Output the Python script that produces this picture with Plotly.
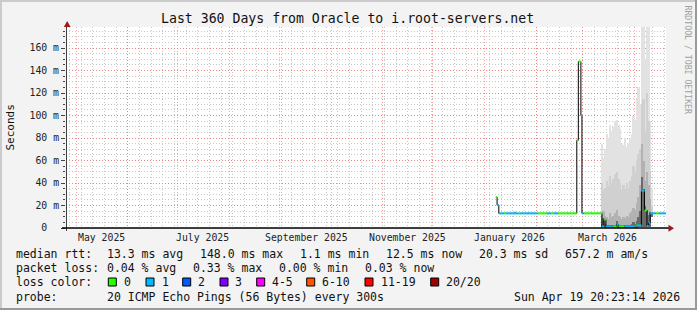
import plotly.graph_objects as go
import pandas as pd

# ---------------- data ----------------
TITLE = "Last 360 Days from Oracle to i.root-servers.net"
X_START = "2025-04-24 20:23:14"
X_END = "2026-04-19 20:23:14"

# median rtt (ms), step changes
MED_T = ["2026-01-07 18:00", "2026-01-08 12:00", "2026-01-09 13:00", "2026-02-25 08:00",
         "2026-02-26 06:00", "2026-02-27 19:00", "2026-02-28 10:00", "2026-03-12 10:00",
         "2026-03-13 14:00", "2026-03-14 19:00", "2026-03-21 06:00", "2026-03-22 11:00",
         "2026-04-01 16:00", "2026-04-05 02:00", "2026-04-06 22:00", "2026-04-08 10:00",
         "2026-04-09 11:00", "2026-04-10 09:00", "2026-04-19 20:23"]
MED_V = [27.5, 20.4, 13.0, 78.0, 148.0, 100.0, 13.0, 1.5, 7.5, 1.2, 3.0, 1.5, 2.5, 33.0,
         15.6, 1.8, 4.7, 13.0, 13.0]

# packet loss bucket (0 -> "0", 1 -> "1"), step changes
LOSS_T = ["2026-01-07 18:00", "2026-01-08 12:00", "2026-01-12 14:00", "2026-01-13 19:00",
          "2026-01-21 05:00", "2026-01-22 05:00", "2026-02-01 14:00", "2026-02-07 14:00",
          "2026-02-09 14:00", "2026-02-11 14:00", "2026-02-14 00:00", "2026-02-27 19:00",
          "2026-03-01 12:00", "2026-03-12 10:00", "2026-03-13 14:00", "2026-03-14 19:00",
          "2026-03-18 19:00", "2026-03-21 06:00", "2026-03-22 11:00", "2026-03-26 00:00",
          "2026-04-01 02:00", "2026-04-02 07:00", "2026-04-06 22:00", "2026-04-08 10:00",
          "2026-04-13 17:00", "2026-04-15 12:00"]
LOSS_B = [0, 1, 0, 1, 0, 1, 0, 1, 0, 1, 0, 1, 0, 1, 0, 1, 0, 1, 0, 1, 0, 1, 0, 1, 0, 1]

# smoke (ms) per day: low bound and upper bounds of the shaded layers
SMOKE_DAYS = ["2026-01-19", "2026-03-12", "2026-03-13", "2026-03-14", "2026-03-15", "2026-03-16",
              "2026-03-17", "2026-03-18", "2026-03-19", "2026-03-20", "2026-03-21", "2026-03-22",
              "2026-03-23", "2026-03-24", "2026-03-25", "2026-03-26", "2026-03-27", "2026-03-28",
              "2026-03-29", "2026-03-30", "2026-03-31", "2026-04-01", "2026-04-02", "2026-04-03",
              "2026-04-04", "2026-04-05", "2026-04-06", "2026-04-07", "2026-04-08", "2026-04-09",
              "2026-04-10", "2026-04-11"]
SMOKE_LOW = [13.0, 0.3, 0.5, 0.3, 0.3, 0.3, 0.3, 0.3, 0.3, 0.3, 0.5, 0.3, 0.3, 0.3, 0.3, 0.3,
             0.3, 0.3, 0.3, 0.3, 0.3, 0.3, 0.3, 0.5, 0.5, 1.0, 1.0, 0.8, 0.5, 0.5, 0.8, 10.0]
SMOKE_L1 = [15.5, 75, 62, 70, 84, 80, 92, 86, 90, 95, 96, 92, 88, 76, 74, 80, 72, 76, 80, 84,
            100, 96, 115, 125, 110, 190, 190, 150, 190, 190, 95, 35]
SMOKE_L2 = [14.5, 40, 34, 36, 42, 38, 46, 40, 44, 48, 50, 44, 40, 34, 38, 35, 40, 36, 42, 46,
            55, 50, 60, 66, 70, 110, 115, 85, 120, 95, 50, 20]
SMOKE_L3 = [13.5, 12, 15, 11, 10, 8, 13, 10, 11, 13, 16, 11, 10, 8, 10, 9, 11, 10, 13, 15,
            18, 16, 22, 28, 38, 75, 60, 42, 50, 38, 26, 14]
SMOKE_L4 = [13.2, 4, 9, 4, 3, 2.5, 3, 2.5, 3, 3, 6, 3, 2.5, 2.5, 2.5, 2.5, 3, 2.5, 3, 4,
            5, 4, 6, 10, 15, 45, 35, 20, 16, 12, 14, 13.5]

Y_TICKS = [0, 20, 40, 60, 80, 100, 120, 140, 160]
Y_TICKTEXT = ["0\u00a0\u00a0", "20 m", "40 m", "60 m", "80 m", "100 m", "120 m", "140 m", "160 m"]
X_LABELS = ["May 2025", "July 2025", "September 2025", "November 2025", "January 2026", "March 2026"]
X_LABEL_AT = ["2025-05-16", "2025-07-16", "2025-09-16", "2025-11-16", "2026-01-16", "2026-03-16"]

LOSS_NAMES = ["0", "1", "2", "3", "4-5", "6-10", "11-19", "20/20"]
LOSS_COLORS = ["#26ff00", "#00b8ff", "#0059ff", "#7e00ff", "#ff00ff", "#ff5500", "#ff0000", "#a10000"]

LEGEND_RTT = ["median rtt:", "13.3 ms avg", "148.0 ms max", "1.1 ms min", "12.5 ms now",
              "20.3 ms sd", "657.2 m am/s"]
LEGEND_LOSS = ["packet loss:", "0.04 % avg", "0.33 % max", "0.00 % min", "0.03 % now"]
PROBE = ["probe:", "20 ICMP Echo Pings (56 Bytes) every 300s"]
STAMP = "Sun Apr 19 20:23:14 2026"

# ---------------- layout geometry ----------------
W_IMG, H_IMG = 697, 310
L, T, W, H = 66, 27, 600, 201
Y_MAX = 178.7
FONT = "DejaVu Sans Mono"


def px(x):
    return (x - L) / W


def py(y):
    return (T + H - y) / H


fig = go.Figure()

# smoke layers
smoke_x = [pd.Timestamp(d) + pd.Timedelta(hours=12) for d in SMOKE_DAYS]
for tops, col in [(SMOKE_L1, "#e2e2e2"), (SMOKE_L2, "#d0d0d0"), (SMOKE_L3, "#b2b2b2"), (SMOKE_L4, "#6a6a6a")]:
    fig.add_trace(go.Bar(x=smoke_x, y=[t - b for t, b in zip(tops, SMOKE_LOW)], base=SMOKE_LOW,
                         width=86400000, marker=dict(color=col, line=dict(width=0)),
                         hoverinfo="skip", showlegend=False))

# black step line of median
fig.add_trace(go.Scatter(x=MED_T, y=MED_V, mode="lines", line=dict(color="black", width=1, shape="hv"),
                         hoverinfo="skip", showlegend=False))

# coloured horizontal segments by loss
med_t = pd.to_datetime(MED_T)
loss_t = pd.to_datetime(LOSS_T)
bounds = sorted(set(med_t) | set(loss_t))
seg = {}
for i in range(len(bounds) - 1):
    t0, t1 = bounds[i], bounds[i + 1]
    vi = max(j for j in range(len(med_t)) if med_t[j] <= t0)
    li = max(j for j in range(len(loss_t)) if loss_t[j] <= t0)
    b = LOSS_B[li]
    xs, ys = seg.setdefault(b, ([], []))
    xs += [t0, t1, None]
    ys += [MED_V[vi], MED_V[vi], None]
for b, (xs, ys) in seg.items():
    fig.add_trace(go.Scatter(x=xs, y=ys, mode="lines", line=dict(color=LOSS_COLORS[b], width=2),
                             hoverinfo="skip", showlegend=False))

month_starts = pd.date_range("2025-05-01", "2026-04-01", freq="MS")
weeks = pd.date_range("2025-04-27", "2026-04-19", freq="7D")

fig.update_layout(
    width=W_IMG, height=H_IMG,
    margin=dict(l=L, r=W_IMG - L - W, t=T, b=H_IMG - T - H, pad=0),
    paper_bgcolor="#f3f3f3", plot_bgcolor="white",
    barmode="overlay", bargap=0, showlegend=False,
    xaxis=dict(type="date", range=[X_START, X_END], showline=False, zeroline=False,
               tickmode="array", tickvals=list(month_starts), ticktext=[""] * len(month_starts),
               showgrid=True, gridcolor="rgba(255,80,80,0.55)", griddash="1px,2px", gridwidth=1,
               ticks="", minor=dict(tickmode="array", tickvals=list(weeks), showgrid=True,
                                    gridcolor="#c8c8c8", griddash="1px,2px", gridwidth=1, ticks="")),
    yaxis=dict(range=[0, Y_MAX], tickmode="array", tickvals=Y_TICKS, ticktext=Y_TICKTEXT,
               showline=False, zeroline=False, showgrid=True, gridcolor="rgba(255,80,80,0.55)",
               griddash="1px,2px", ticks="outside", ticklen=4, tickcolor="#444",
               tickfont=dict(family=FONT, size=9.8, color="#222"),
               minor=dict(dtick=5, showgrid=True, gridcolor="#c8c8c8", griddash="1px,2px",
                          ticks="outside", ticklen=2, tickcolor="#444")),
    font=dict(family=FONT, color="#222"),
)

shapes = []
# frame
shapes.append(dict(type="line", xref="paper", yref="paper", x0=px(0), x1=px(W_IMG), y0=py(1), y1=py(1),
                   line=dict(color="#cbcbcb", width=2)))
shapes.append(dict(type="line", xref="paper", yref="paper", x0=px(1), x1=px(1), y0=py(0), y1=py(H_IMG),
                   line=dict(color="#cbcbcb", width=2)))
shapes.append(dict(type="line", xref="paper", yref="paper", x0=px(0), x1=px(W_IMG), y0=py(H_IMG - 1),
                   y1=py(H_IMG - 1), line=dict(color="#999999", width=2)))
shapes.append(dict(type="line", xref="paper", yref="paper", x0=px(W_IMG - 1), x1=px(W_IMG - 1), y0=py(0),
                   y1=py(H_IMG), line=dict(color="#999999", width=2)))
# axes
shapes.append(dict(type="line", xref="paper", yref="paper", x0=px(66.5), x1=px(66.5), y0=py(231), y1=py(25),
                   line=dict(color="#404040", width=1)))
shapes.append(dict(type="line", xref="paper", yref="paper", x0=px(62), x1=px(670), y0=py(228), y1=py(228),
                   line=dict(color="black", width=1.5)))
# arrows
shapes.append(dict(type="path", xref="paper", yref="paper",
                   path=f"M {px(63.8)} {py(27)} L {px(67.2)} {py(21)} L {px(70.6)} {py(27)} Z",
                   fillcolor="#a01818", line=dict(width=0)))
shapes.append(dict(type="path", xref="paper", yref="paper",
                   path=f"M {px(668.5)} {py(224.7)} L {px(674)} {py(228.2)} L {px(668.5)} {py(231.7)} Z",
                   fillcolor="#a01818", line=dict(width=0)))

annotations = []


def text(s, x, y, size=11.5, anchor="left", color="#111", angle=0):
    annotations.append(dict(text=s, x=px(x), y=py(y), xref="paper", yref="paper", xanchor=anchor,
                            yanchor="middle", showarrow=False, borderpad=0, borderwidth=0,
                            textangle=angle, font=dict(family=FONT, size=size, color=color)))


text(TITLE, 347.5, 19, size=13.2, anchor="center")
text("Seconds", 10, 127.5, size=11, anchor="center", angle=-90)
text("RRDTOOL / TOBI OETIKER", 687.5, 60, size=8.2, anchor="center", color="#a0a0a0", angle=90)

for lab, d in zip(X_LABELS, X_LABEL_AT):
    annotations.append(dict(text=lab, x=d, y=py(237.5), xref="x", yref="paper", xanchor="center",
                            yanchor="middle", showarrow=False, borderpad=0, borderwidth=0,
                            font=dict(family=FONT, size=9.8, color="#222")))

rtt_x = [16, 107.3, 200, 300, 386, 479.3, 565]
for s, x in zip(LEGEND_RTT, rtt_x):
    text(s, x, 254.3)
loss_x = [16, 107.3, 193.3, 279.3, 365]
for s, x in zip(LEGEND_LOSS, loss_x):
    text(s, x, 268.3)
text("loss color:", 16, 282.2)
sq_x = [108.3, 146, 182.7, 220, 256.7, 306.7, 365, 430.7]
for name, col, x in zip(LOSS_NAMES, LOSS_COLORS, sq_x):
    shapes.append(dict(type="rect", xref="paper", yref="paper", x0=px(x), x1=px(x + 8), y0=py(278),
                       y1=py(286), fillcolor=col, line=dict(color="black", width=1)))
    text(name, x + 15.5, 282.2)
text(PROBE[0], 16, 296.5)
text(PROBE[1], 107.3, 296.5)
text(STAMP, 680, 296.5, anchor="right")

fig.update_layout(shapes=shapes, annotations=annotations)
fig.write_html("out.html")
